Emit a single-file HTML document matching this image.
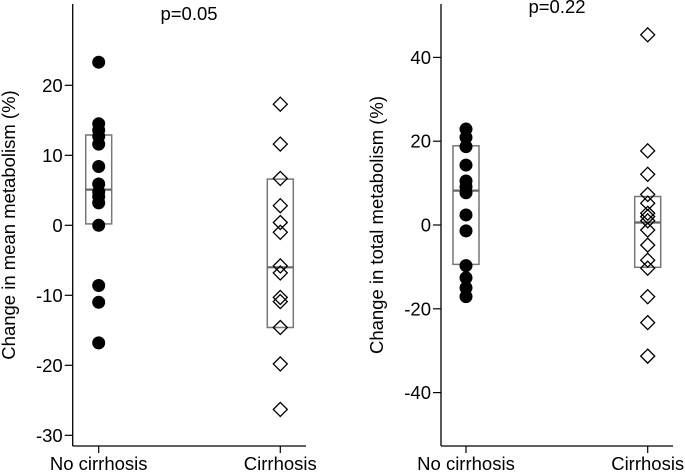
<!DOCTYPE html>
<html><head><meta charset="utf-8"><style>
html,body{margin:0;padding:0;background:#fff;}
svg{display:block;font-family:"Liberation Sans",Arial,sans-serif;}
</style></head><body>
<svg id="chart" width="685" height="472" viewBox="0 0 685 472"></svg>
<script>
const categories = ["No cirrhosis", "Cirrhosis"];
// Left panel: change in mean metabolism
const meanNoCirr = [23.3, 14.5, 13.6, 12.7, 11.6, 8.4, 5.9, 4.8, 4.1, 3.2, 0, -8.6, -11, -16.8];
const meanCirr = [17.3, 11.6, 6.7, 2.8, 0.4, -1, -5.8, -6.8, -10.3, -10.9, -14.6, -19.8, -26.3];
const meanBoxNoCirr = [0.2, 5.1, 12.9];
const meanBoxCirr = [-14.6, -6, 6.6];
const meanTicks = [20, 10, 0, -10, -20, -30];
// Right panel: change in total metabolism
const totNoCirr = [22.9, 20.9, 18.7, 14.3, 10.5, 9.1, 7.7, 2.4, -1.4, -9.7, -12.6, -15, -17.1];
const totCirr = [45.4, 17.7, 12.1, 7.3, 5.2, 2.8, 2.0, 1.0, -1.2, -4.8, -8.4, -10.3, -17.1, -23.3, -31.3];
const totBoxNoCirr = [-9.4, 8.2, 18.9];
const totBoxCirr = [-10.1, 0.6, 6.8];
const totTicks = [40, 20, 0, -20, -40];

const FS = 18.5;
const NS = "http://www.w3.org/2000/svg";
const svg = document.getElementById("chart");
function mk(tag, attrs, parent) {
  const e = document.createElementNS(NS, tag);
  for (const k in attrs) e.setAttribute(k, attrs[k]);
  (parent || svg).appendChild(e);
  return e;
}

function panel(cfg) {
  const g = mk("g", {});
  
  
  const y = v => cfg.y0 - cfg.k * v;
  const xc = [cfg.xA, cfg.xB];
  const ya = mk("line", {x1: cfg.ax, y1: 4, x2: cfg.ax, y2: 446, stroke: "#000", "stroke-width": 1.3}, g);
  
  
  const xa = mk("line", {x1: cfg.ax, y1: 446, x2: cfg.axEnd, y2: 446, stroke: "#000", "stroke-width": 1.3}, g);
  
  
  cfg.ticks.forEach(t => {
    const l = mk("line", {x1: cfg.ax - 8, y1: y(t), x2: cfg.ax, y2: y(t), stroke: "#000", "stroke-width": 1.2}, g);
    
    
    const tx = mk("text", {x: cfg.ax - 10, y: y(t) + 6.5, "text-anchor": "end", "font-size": FS, fill: "#000"}, g);
    tx.textContent = t;
    
    
  });
  categories.forEach((c, i) => {
    const l = mk("line", {x1: xc[i], y1: 446, x2: xc[i], y2: 453, stroke: "#000", "stroke-width": 1.2}, g);
    
    
    const tx = mk("text", {x: xc[i], y: 470, "text-anchor": "middle", "font-size": FS, fill: "#000"}, g);
    tx.textContent = c;
    
    
  });
  const yt = mk("text", {x: 0, y: 0, "text-anchor": "middle", "font-size": FS, fill: "#000",
    transform: `translate(${cfg.titleX},225) rotate(-90)`}, g);
  yt.textContent = cfg.title;
  
  
  const pt = mk("text", {x: cfg.pX, y: cfg.pY, "text-anchor": "middle", "font-size": FS, fill: "#000"}, g);
  pt.textContent = cfg.p;
  
  
  [cfg.boxA, cfg.boxB].forEach((b, i) => {
    const r = mk("rect", {x: xc[i] - 13, y: y(b[2]), width: 26, height: y(b[0]) - y(b[2]), fill: "none", stroke: "#777", "stroke-width": 1.5}, g);
    
    
    const m = mk("line", {x1: xc[i] - 13, y1: y(b[1]), x2: xc[i] + 13, y2: y(b[1]), stroke: "#666", "stroke-width": 2.2}, g);
    
    
  });
  cfg.ptsA.forEach(v => {
    const c = mk("circle", {cx: xc[0], cy: y(v), r: 6.5, fill: "#000"}, g);
    
    
  });
  cfg.ptsB.forEach(v => {
    const cx = xc[1], cy = y(v), d = 7;
    const p = mk("polygon", {points: `${cx},${cy-d} ${cx+d},${cy} ${cx},${cy+d} ${cx-d},${cy}`, fill: "none", stroke: "#000", "stroke-width": 1.3}, g);
    
    
  });
}

panel({name: "mean-metabolism-panel", ax: 72.7, axEnd: 306, y0: 225.3, k: 7.0, xA: 98.7, xB: 280.3,
  ticks: meanTicks, title: "Change in mean metabolism (%)", titleX: 15, p: "p=0.05", pX: 189, pY: 20,
  boxA: meanBoxNoCirr, boxB: meanBoxCirr, ptsA: meanNoCirr, ptsB: meanCirr});
panel({name: "total-metabolism-panel", ax: 441, axEnd: 673, y0: 225, k: 4.19, xA: 466, xB: 647.7,
  ticks: totTicks, title: "Change in total metabolism (%)", titleX: 383, p: "p=0.22", pX: 557, pY: 13,
  boxA: totBoxNoCirr, boxB: totBoxCirr, ptsA: totNoCirr, ptsB: totCirr});
</script>
</body></html>
